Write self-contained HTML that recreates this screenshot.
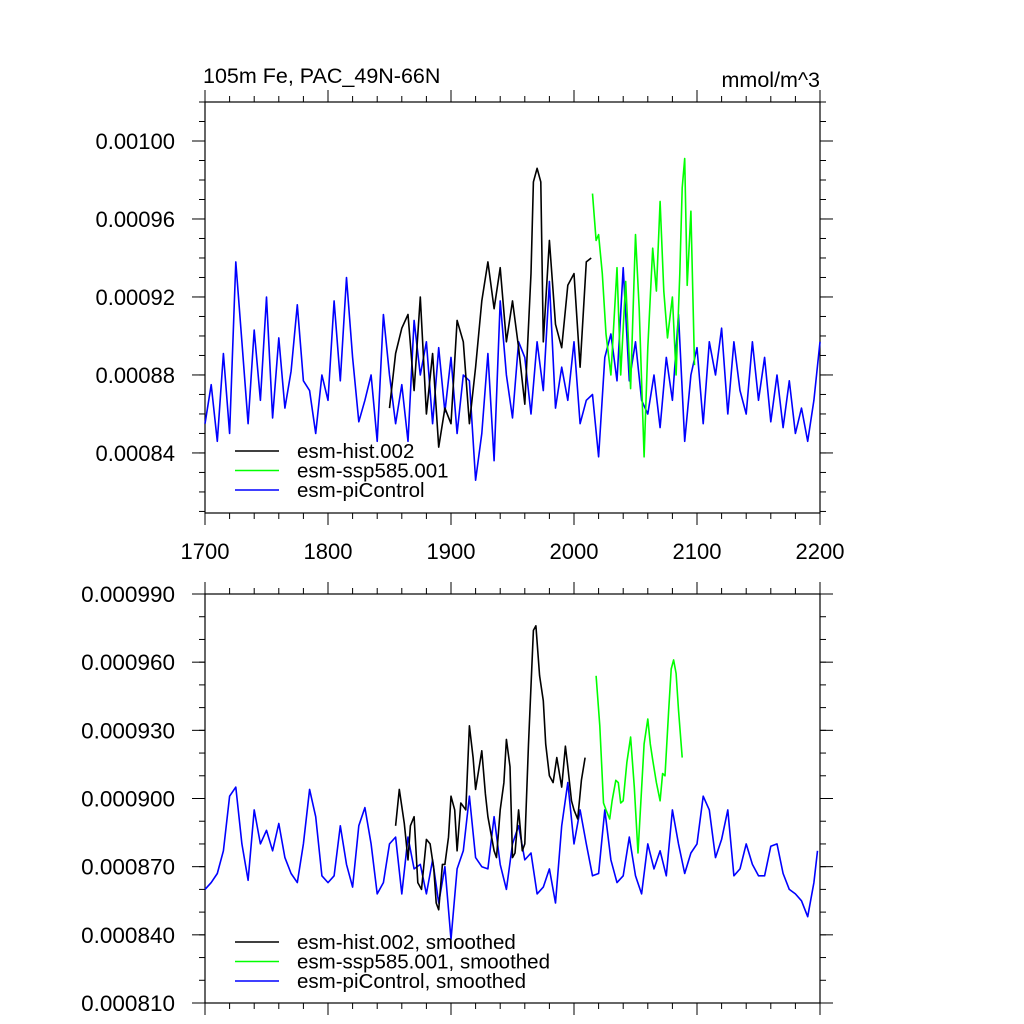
<!DOCTYPE html>
<html><head><meta charset="utf-8"><style>
html,body{margin:0;padding:0;background:#fff}
svg{display:block}
text{font-family:"Liberation Sans",sans-serif;fill:#000}
</style></head><body>
<svg id="chart" width="1024" height="1024" viewBox="0 0 1024 1024" xmlns="http://www.w3.org/2000/svg"></svg>
<script>
// values in units of 1e-6 mmol/m^3
const topBlueYears = [];
const topBlue = [855,875,846,891,850,938,897,855,903,867,920,858,899,863,882,916,877,872,850,880,867,918,877,930,889,856,867,880,846,911,880,855,875,846,908,880,897,855,894,861,889,850,880,877,826,850,891,836,918,880,858,897,889,860,897,872,928,863,884,867,897,855,867,870,838,889,901,877,935,877,897,867,860,880,853,889,867,911,846,880,894,855,897,880,904,860,897,872,860,897,867,889,856,880,853,877,850,863,846,867,897];
const topBlackYears = [1850,1855,1860,1865,1870,1875,1880,1885,1890,1895,1900,1905,1910,1915,1920,1925,1930,1935,1940,1945,1950,1955,1960,1965,1967,1970,1973,1975,1980,1985,1990,1995,2000,2005,2010,2014];
const topBlack = [863,891,904,911,872,920,860,891,843,863,855,908,897,855,884,918,938,914,935,897,918,894,865,932,979,986,979,897,949,906,894,926,932,884,938,940];
const topGreenYears = [2015,2018,2020,2023,2026,2030,2035,2038,2042,2046,2050,2053,2057,2060,2064,2067,2070,2073,2076,2080,2083,2086,2088,2090,2092,2095,2098];
const topGreen = [973,949,952,932,901,880,935,880,928,873,952,914,838,894,945,923,969,923,899,920,880,932,976,991,926,964,885];
const botBlueYears = [];
const botBlue = [860,863,867,877,901,905,880,864,895,880,886,877,889,874,867,863,880,904,892,866,863,866,888,871,861,888,896,880,858,863,880,883,858,883,869,871,858,873,854,870,838,869,877,901,874,870,869,892,871,860,880,888,873,876,858,861,869,854,888,907,880,895,880,866,867,895,873,863,866,883,866,858,880,869,877,866,895,880,867,876,880,901,895,874,882,895,866,869,880,871,866,866,879,880,867,860,858,855,848,863,877];
const botBlackYears = [1855,1858,1862,1865,1867,1870,1873,1876,1880,1883,1886,1888,1890,1893,1895,1898,1900,1903,1905,1908,1912,1915,1918,1920,1925,1928,1930,1935,1937,1940,1943,1945,1948,1950,1952,1955,1958,1960,1963,1967,1969,1972,1975,1977,1980,1983,1986,1990,1993,1995,1998,2000,2003,2006,2009];
const botBlack = [888,904,889,873,888,892,863,860,882,880,869,854,851,871,871,883,901,895,877,898,895,932,918,904,921,902,892,877,874,895,907,926,914,874,876,895,877,880,924,974,976,954,943,924,910,907,918,905,923,914,899,895,891,908,918];
const botGreenYears = [2018,2021,2024,2026,2029,2031,2034,2036,2038,2040,2043,2046,2049,2052,2054,2057,2060,2062,2064,2067,2070,2072,2074,2077,2079,2081,2083,2085,2088];
const botGreen = [954,932,898,895,891,899,908,907,898,899,916,927,905,876,895,924,935,924,917,907,899,911,910,939,957,961,955,939,918];
const xTicks = [1700,1800,1900,2000,2100,2200];
const topYTicks = ["0.00084","0.00088","0.00092","0.00096","0.00100"];
const botYTicks = ["0.000810","0.000840","0.000870","0.000900","0.000930","0.000960","0.000990"];
for (let y=1700;y<=2200;y+=5) topBlueYears.push(y);
for (let y=1700;y<=2195;y+=5) botBlueYears.push(y);
botBlueYears.push(2198);

const NS="http://www.w3.org/2000/svg";
const svg=document.getElementById('chart');
function el(tag,attrs,parent){const e=document.createElementNS(NS,tag);for(const k in attrs)e.setAttribute(k,attrs[k]);(parent||svg).appendChild(e);return e;}
const X0=205,X1=820;
const sx=yr=>X0+(yr-1700)/500*(X1-X0);
const topP={t:102,b:513,vTop:1020.0,vBot:809.2};
const botP={t:594,b:1003,vTop:990,vBot:810};
function mkY(p){return v=>p.b-(v-p.vBot)/(p.vTop-p.vBot)*(p.b-p.t);}
const syT=mkY(topP), syB=mkY(botP);

function frame(p,name,sy,ticks,minorStep,xLabels,fs){
  const g=el('g',{});
  
  
  el('rect',{x:X0,y:p.t,width:X1-X0,height:p.b-p.t,fill:'none',stroke:'#000','stroke-width':1.2},g);
  for(let yr=1700;yr<=2200;yr+=20){
    const x=sx(yr),maj=(yr%100===0),L=maj?12:6;
    el('line',{x1:x,y1:p.b,x2:x,y2:p.b+L,stroke:'#000','stroke-width':1},g);
    el('line',{x1:x,y1:p.t,x2:x,y2:p.t-L,stroke:'#000','stroke-width':1},g);
  }
  if(xLabels){
    xTicks.forEach(v=>{const t=el('text',{x:sx(v),y:p.b+46,'font-size':22,'text-anchor':'middle'},g);t.textContent=v;
      
      });
  }
  for(let v=Math.ceil(p.vBot/minorStep)*minorStep;v<=p.vTop+0.01;v+=minorStep){
    const y=sy(v);
    el('line',{x1:X0,y1:y,x2:X0-6,y2:y,stroke:'#000','stroke-width':1},g);
    el('line',{x1:X1,y1:y,x2:X1+6,y2:y,stroke:'#000','stroke-width':1},g);
  }
  ticks.forEach(s=>{const v=parseFloat(s)*1e6,y=sy(v);
    el('line',{x1:X0,y1:y,x2:X0-13,y2:y,stroke:'#000','stroke-width':1},g);
    el('line',{x1:X1,y1:y,x2:X1+13,y2:y,stroke:'#000','stroke-width':1},g);
    const t=el('text',{x:X0-30,y:y+8,'font-size':fs,'text-anchor':'end'},g);t.textContent=s;
    
    
  });
}
frame(topP,'top-panel-axes',syT,topYTicks,10,true,22);
frame(botP,'bottom-panel-axes',syB,botYTicks,10,false,22.5);

function series(years,vals,sy,color,name){
  const d=years.map((yr,i)=>(i?'L':'M')+sx(yr).toFixed(1)+' '+sy(vals[i]).toFixed(1)).join(' ');
  const p=el('path',{d:d,fill:'none',stroke:color,'stroke-width':1.6,'stroke-linejoin':'round'});
  
  
}
series(topBlueYears,topBlue,syT,'#0000ff','line-pi-control');
series(topBlackYears,topBlack,syT,'#000000','line-hist');
series(topGreenYears,topGreen,syT,'#00ff00','line-ssp585');
series(botBlueYears,botBlue,syB,'#0000ff','line-pi-control-smoothed');
series(botBlackYears,botBlack,syB,'#000000','line-hist-smoothed');
series(botGreenYears,botGreen,syB,'#00ff00','line-ssp585-smoothed');

function legend(y0,labels,name){
  const g=el('g',{});
  
  
  const cols=['#000','#00ff00','#0000ff'];
  labels.forEach((s,i)=>{const y=y0+i*19.5;
    el('line',{x1:235,y1:y,x2:279,y2:y,stroke:cols[i],'stroke-width':1.6},g);
    const t=el('text',{x:297,y:y+7,'font-size':20.5},g);t.textContent=s;
    
    
  });
}
legend(451,['esm-hist.002','esm-ssp585.001','esm-piControl'],'top-legend');
legend(942,['esm-hist.002, smoothed','esm-ssp585.001, smoothed','esm-piControl, smoothed'],'bottom-legend');

let t=el('text',{x:203,y:83,'font-size':21.5});t.textContent='105m Fe, PAC_49N-66N';


t=el('text',{x:820,y:87,'font-size':21.5,'text-anchor':'end'});t.textContent='mmol/m^3';


</script>
</body></html>
